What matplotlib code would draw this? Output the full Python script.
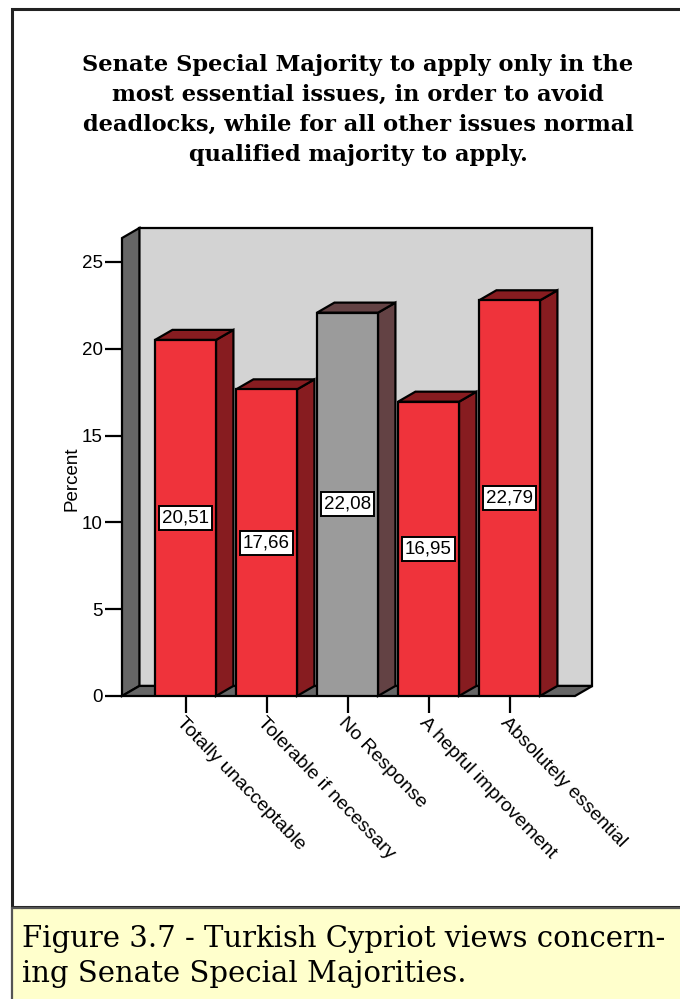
import matplotlib
matplotlib.use("Agg")
import matplotlib.pyplot as plt
from matplotlib.patches import Polygon, Rectangle

# --- data ---
categories = ["Totally unacceptable", "Tolerable if necessary", "No Response",
              "A hepful improvement", "Absolutely essential"]
percents = [20.51, 17.66, 22.08, 16.95, 22.79]
value_labels = ["20,51", "17,66", "22,08", "16,95", "22,79"]
y_ticks = [0, 5, 10, 15, 20, 25]

title = ("Senate Special Majority to apply only in the\n"
         "most essential issues, in order to avoid\n"
         "deadlocks, while for all other issues normal\n"
         "qualified majority to apply.")
caption = ("Figure 3.7 - Turkish Cypriot views concern-\n"
           "ing Senate Special Majorities.")

RED, RED_DARK = "#ef333b", "#871c20"
GRAY, GRAY_DARK = "#9b9b9b", "#634244"
WALL, WALL_DARK = "#d3d3d3", "#666666"

W, H = 680, 999
fig = plt.figure(figsize=(W / 100, H / 100), dpi=100)

# outer frame and caption box (figure pixel coords)
def px(x, y):
    return x / W, 1 - y / H

fig.patches.append(Rectangle(px(12, 907), (W + 10) / W, (907 - 9) / H,
                             transform=fig.transFigure, fill=False,
                             edgecolor="#222222", lw=2.2))
fig.patches.append(Rectangle(px(12, 1005), (W + 10) / W, (1005 - 908) / H,
                             transform=fig.transFigure, facecolor="#ffffcc",
                             edgecolor="#555555", lw=1.6))

fig.text(358 / W, 1 - 54 / H, title, ha="center", va="top", family="DejaVu Serif",
         fontweight="bold", fontsize=16.2, linespacing=1.47)
fig.text(22 / W, 1 - 925 / H, caption, ha="left", va="top", family="DejaVu Serif",
         fontsize=21, linespacing=1.33)

# axes covering the front plane of the 3D box
x0, x1 = 122, 575
ybot, ytop = 696, 262
ax = fig.add_axes([x0 / W, 1 - ybot / H, (x1 - x0) / W, (ybot - ytop) / H])
pitch = 81.0
xmin = (x0 - 185.5) / pitch
xmax = (x1 - 185.5) / pitch
ax.set_xlim(xmin, xmax)
ax.set_ylim(0, 25)

dx, dy = 0.215, 0.58       # depth offset in data units
top = 26.38                # wall height

def poly(pts, fc, z, ec="black", lw=1.6):
    ax.add_patch(Polygon(pts, closed=True, facecolor=fc, edgecolor=ec, lw=lw,
                         zorder=z, clip_on=False, joinstyle="miter"))

# back wall, left wall, floor
poly([(xmin + dx, dy), (xmax + dx, dy), (xmax + dx, top + dy), (xmin + dx, top + dy)], WALL, 1)
poly([(xmin, 0), (xmin + dx, dy), (xmin + dx, top + dy), (xmin, top)], WALL_DARK, 2)
poly([(xmin, 0), (xmax, 0), (xmax + dx, dy), (xmin + dx, dy)], WALL_DARK, 2)

bw = 61 / pitch
for i, (v, lab) in enumerate(zip(percents, value_labels)):
    front, dark = (GRAY, GRAY_DARK) if categories[i] == "No Response" else (RED, RED_DARK)
    l, r = i - bw / 2, i + bw / 2
    poly([(r, 0), (r + dx, dy), (r + dx, v + dy), (r, v)], dark, 3)
    poly([(l, v), (r, v), (r + dx, v + dy), (l + dx, v + dy)], dark, 3)
    ax.bar(i, v, width=bw, color=front, edgecolor="black", lw=1.6, zorder=4)
    ax.text(i, v / 2, lab, ha="center", va="center", fontsize=13.5,
            family="Liberation Sans", zorder=6,
            bbox=dict(boxstyle="square,pad=0.18", facecolor="white",
                      edgecolor="black", lw=1.4))

for s in ax.spines.values():
    s.set_visible(False)
ax.patch.set_visible(False)

ax.set_yticks(y_ticks)
ax.set_yticklabels([str(t) for t in y_ticks], family="Liberation Sans", fontsize=13.5)
ax.tick_params(axis="y", length=12, width=1.6, pad=2)
ax.set_xticks(range(len(categories)))
ax.set_xticklabels(categories, rotation=-46, ha="left", va="top",
                   rotation_mode="anchor", family="Liberation Sans", fontsize=14)
ax.tick_params(axis="x", length=12, width=1.6, pad=1)
ax.set_ylabel("Percent", family="Liberation Sans", fontsize=13.5, labelpad=1)

fig.savefig("out.png", dpi=100)
